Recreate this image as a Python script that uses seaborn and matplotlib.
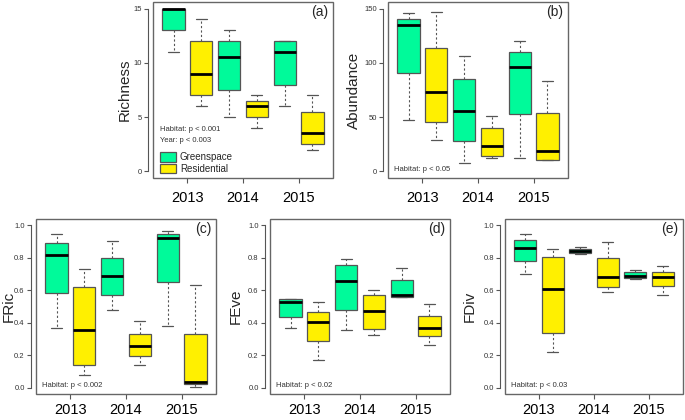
import matplotlib
matplotlib.use("Agg")
import matplotlib.pyplot as plt
import numpy as np
import pandas as pd
import seaborn as sns
from matplotlib.patches import Rectangle

# five-number summaries per year: [min, q1, median, q3, max]
YEARS = ["2013", "2014", "2015"]
HABITATS = ["Greenspace", "Residential"]
COLORS = ["#00FA9A", "#FFF000"]

richness_green = [[11, 13, 15, 15, 15], [5, 7.5, 10.5, 12, 13], [6, 8, 11, 12, 12]]
richness_resid = [[6, 7, 9, 12, 14], [4, 5, 6, 6.5, 7], [2, 2.5, 3.5, 5.5, 7]]

abundance_green = [[47, 91, 135, 140, 146], [8, 28, 56, 85, 106], [12, 53, 96, 110, 120]]
abundance_resid = [[29, 46, 73, 114, 147], [12, 14, 23, 40, 51], [11, 11, 19, 54, 83]]

fric_green = [[0.37, 0.584, 0.82, 0.89, 0.95], [0.477, 0.572, 0.686, 0.80, 0.905],
              [0.38, 0.651, 0.925, 0.945, 0.965]]
fric_resid = [[0.077, 0.136, 0.355, 0.62, 0.73], [0.142, 0.197, 0.254, 0.33, 0.41],
              [0.004, 0.02, 0.034, 0.333, 0.63]]

feve_green = [[0.367, 0.438, 0.527, 0.544, 0.545], [0.355, 0.477, 0.655, 0.755, 0.795],
              [0.556, 0.556, 0.572, 0.661, 0.736]]
feve_resid = [[0.17, 0.286, 0.406, 0.467, 0.527], [0.327, 0.361, 0.475, 0.57, 0.602],
              [0.262, 0.316, 0.369, 0.442, 0.517]]

fdiv_green = [[0.702, 0.779, 0.864, 0.909, 0.95], [0.823, 0.828, 0.844, 0.856, 0.868],
              [0.669, 0.673, 0.69, 0.712, 0.728]]
fdiv_resid = [[0.219, 0.339, 0.611, 0.807, 0.856], [0.59, 0.619, 0.68, 0.80, 0.897],
              [0.574, 0.629, 0.68, 0.716, 0.748]]

PANELS = [
    ("Richness", "(a)", richness_green, richness_resid, [0, 5, 10, 15], "%d",
     ["Habitat: p < 0.001", "Year: p < 0.003"]),
    ("Abundance", "(b)", abundance_green, abundance_resid, [0, 50, 100, 150], "%d",
     ["Habitat: p < 0.05"]),
    ("FRic", "(c)", fric_green, fric_resid, [0, 0.2, 0.4, 0.6, 0.8, 1.0], "%.1f",
     ["Habitat: p < 0.002"]),
    ("FEve", "(d)", feve_green, feve_resid, [0, 0.2, 0.4, 0.6, 0.8, 1.0], "%.1f",
     ["Habitat: p < 0.02"]),
    ("FDiv", "(e)", fdiv_green, fdiv_resid, [0, 0.2, 0.4, 0.6, 0.8, 1.0], "%.1f",
     ["Habitat: p < 0.03"]),
]

# axes boxes in pixels: left, top, width, height ; y label offset (axes fraction) ; x label pad
W, H = 685, 420
BOXES = [
    (153, 2, 180, 176, -0.12, 5.5),
    (388, 2, 180, 176, -0.15, 5.5),
    (36, 219, 180, 175, -0.115, 3.0),
    (270, 219, 180, 175, -0.15, 3.0),
    (505, 219, 178, 175, -0.16, 3.0),
]


def to_long(green, resid):
    rows = []
    for hab, groups in zip(HABITATS, [green, resid]):
        for year, vals in zip(YEARS, groups):
            for v in vals:
                rows.append({"year": year, "habitat": hab, "value": v})
    return pd.DataFrame(rows)


sns.set_theme(style="white")
plt.rcParams["font.family"] = ["Liberation Sans", "DejaVu Sans"]

fig = plt.figure(figsize=(W / 100, H / 100), dpi=100)

for i, (panel, box) in enumerate(zip(PANELS, BOXES)):
    ylabel, letter, green, resid, yticks, fmt, notes = panel
    left, top, width, height, ylab_x, xpad = box
    ax = fig.add_axes([left / W, (H - top - height) / H, width / W, height / H])

    df = to_long(green, resid)
    sns.boxplot(
        data=df, x="year", y="value", hue="habitat", order=YEARS, hue_order=HABITATS,
        palette=COLORS, saturation=1, whis=(0, 100), width=1.0, gap=0.2, linewidth=0.9,
        linecolor="#555555", legend=(i == 0), ax=ax,
        medianprops=dict(color="black", linewidth=2.0),
        whiskerprops=dict(color="#555555", linestyle=(0, (2, 2)), linewidth=0.8),
        capprops=dict(color="#555555", linewidth=0.9),
    )

    ymax = yticks[-1]
    pad = ymax * 0.04
    ax.set_ylim(-pad, ymax + pad)
    ax.set_xlim(-0.62, 2.62)
    ax.set_yticks(yticks)
    ax.set_yticklabels([fmt % t for t in yticks])
    ax.set_xlabel("")
    ax.set_ylabel(ylabel, fontsize=11)
    ax.yaxis.set_label_coords(ylab_x, 0.5)

    for side in ["top", "right", "bottom"]:
        ax.spines[side].set_visible(False)
    ax.spines["left"].set_position(("outward", 3.6))
    ax.spines["left"].set_bounds(yticks[0], ymax)
    ax.spines["left"].set_color("#555555")
    ax.spines["left"].set_linewidth(0.8)
    ax.add_patch(Rectangle((0, 0), 1, 1, transform=ax.transAxes, fill=False,
                           edgecolor="#666666", linewidth=1.0, clip_on=False, zorder=6))

    ax.tick_params(axis="y", direction="out", length=3, width=0.8, color="#555555",
                   labelsize=5.5, labelcolor="#333333", pad=1.5, left=True)
    ax.tick_params(axis="x", direction="out", length=3.5, width=0.8, color="#555555",
                   labelsize=10.5, labelcolor="black", pad=xpad, bottom=True)

    ax.text(0.975, 0.945, letter, transform=ax.transAxes, ha="right", va="center",
            fontsize=10)
    if len(notes) == 2:
        ax.text(0.04, 0.277, notes[0], transform=ax.transAxes, fontsize=5.5,
                va="center", color="#333333")
        ax.text(0.04, 0.214, notes[1], transform=ax.transAxes, fontsize=5.5,
                va="center", color="#333333")
    else:
        ax.text(0.035, 0.05, notes[0], transform=ax.transAxes, fontsize=5.5,
                va="center", color="#333333")

    if i == 0:
        sns.move_legend(ax, "lower left", bbox_to_anchor=(0.02, 0.0), title=None,
                        frameon=False, fontsize=7, handlelength=1.55,
                        handleheight=1.1, labelspacing=0.2, handletextpad=0.45,
                        borderaxespad=0.2, borderpad=0.2)

fig.savefig("out.png", dpi=100)
